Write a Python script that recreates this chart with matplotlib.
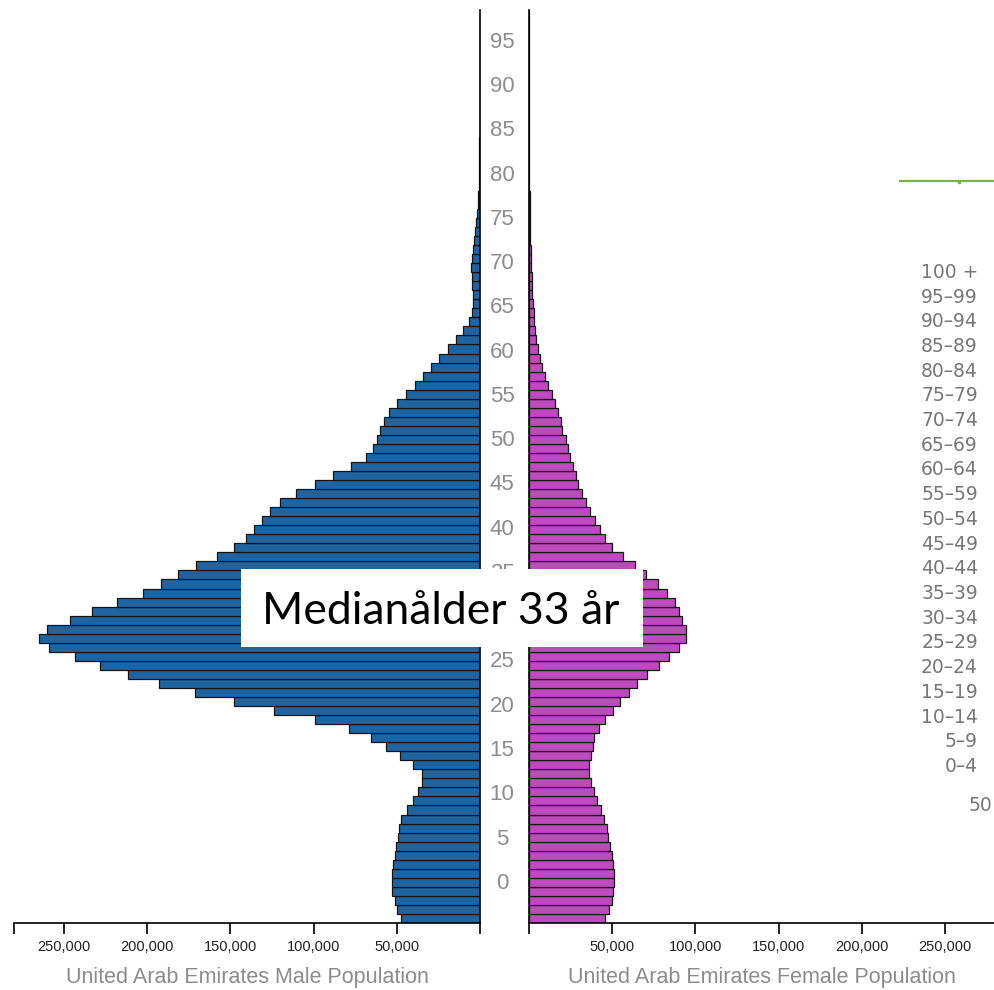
import numpy as np
import matplotlib.pyplot as plt
from matplotlib.patches import Rectangle
from matplotlib.lines import Line2D
import matplotlib.transforms as mtransforms

# single year ages 0..100
ages = np.arange(0, 101)

male = [47500, 49700, 51100, 52700, 53100, 52700, 52100, 50900, 50300, 49500,
        48900, 47500, 43900, 40100, 37100, 35000, 35000, 40100, 48100, 56700,
        65500, 78700, 99200, 123800, 147700, 171300, 192700, 211700, 228400, 243400,
        258800, 265200, 260400, 246600, 233200, 218000, 202700, 191700, 181700, 170700,
        157900, 147700, 140600, 135800, 130800, 126200, 120200, 110600, 99200, 88100,
        77500, 68700, 64500, 62100, 60100, 57700, 54700, 50100, 44500, 39100,
        34500, 29600, 24800, 19400, 14600, 10000, 6600, 4800, 4400, 4400,
        4800, 5000, 5200, 4800, 4000, 3600, 3000, 2400, 2000, 1400,
        1000, 800, 650, 550, 450, 380, 320, 260, 210, 170,
        140, 110, 90, 70, 55, 45, 35, 25, 20, 15, 10]

female = [45600, 48200, 49600, 50600, 51000, 51000, 50600, 49600, 48600, 47600,
          46600, 45000, 43000, 41000, 39200, 37200, 36200, 36200, 37200, 38200,
          39200, 42000, 45600, 50200, 54800, 59800, 65000, 71200, 78000, 84000,
          90200, 94200, 94200, 92000, 90000, 87600, 83200, 77600, 70600, 63600,
          56200, 50000, 45600, 42600, 39800, 36600, 34200, 31600, 29600, 28000,
          26600, 24800, 23600, 22000, 20000, 19000, 17600, 15600, 13600, 11600,
          9600, 7800, 6600, 5200, 4400, 3800, 3200, 2800, 2400, 2100,
          1800, 1600, 1400, 1200, 1000, 850, 720, 600, 500, 420,
          350, 290, 240, 200, 160, 130, 100, 80, 65, 50,
          40, 30, 25, 20, 15, 10, 8, 6, 4, 3, 2]

age_labels = [str(a) for a in range(0, 100, 5)]
group_labels = ['100 +', '95–99', '90–94', '85–89', '80–84', '75–79', '70–74',
                '65–69', '60–64', '55–59', '50–54', '45–49', '40–44', '35–39',
                '30–34', '25–29', '20–24', '15–19', '10–14', '5–9', '0–4']
x_ticks = [50000, 100000, 150000, 200000, 250000]
x_ticklabels = ['50,000', '100,000', '150,000', '200,000', '250,000']
median_text = 'Medianålder 33 år'
male_title = 'United Arab Emirates Male Population'
female_title = 'United Arab Emirates Female Population'

W, H = 994, 990
fig = plt.figure(figsize=(W / 100, H / 100), dpi=100)

def px_box(x0, y0, x1, y1):
    return [x0 / W, 1 - y1 / H, (x1 - x0) / W, (y1 - y0) / H]

axL = fig.add_axes(px_box(14, 10, 480, 923))
axR = fig.add_axes(px_box(529, 10, 995, 923))

axL.barh(ages, male, height=1.0, color='#1f64a0', edgecolor='#151515', linewidth=0.9)
axR.barh(ages, female, height=1.0, color='#be4bbe', edgecolor='#151515', linewidth=0.9)

xmax = 280000
axL.set_xlim(xmax, 0)
axR.set_xlim(0, xmax)

for ax, keep in ((axL, 'right'), (axR, 'left')):
    ax.set_ylim(-0.5, 100.5)
    ax.set_yticks([])
    for s in ['top', 'left', 'right']:
        ax.spines[s].set_visible(s == keep)
    ax.spines[keep].set_linewidth(1.2)
    ax.spines['bottom'].set_linewidth(1.2)
    ax.set_xticks([0] + x_ticks + [xmax])
    ax.set_xticklabels([''] + x_ticklabels + [''])
    ax.tick_params(axis='x', length=8, width=1.2, labelsize=10.5,
                   labelcolor='#222222', pad=4)
    for lab in ax.get_xticklabels():
        lab.set_family('Liberation Sans')

fig.text(247 / W, 1 - 977 / H, male_title, ha='center', va='center',
         fontsize=15.5, color='#8c8c8c', family='Liberation Sans')
fig.text(762 / W, 1 - 977 / H, female_title, ha='center', va='center',
         fontsize=15.5, color='#8c8c8c', family='Liberation Sans')

# age labels between the two halves
trans = mtransforms.blended_transform_factory(fig.transFigure, axL.transData)
label_pos = np.linspace(3.89, 96.93, len(age_labels))
for lab, yp in zip(age_labels, label_pos):
    fig.text(502 / W, yp, lab, transform=trans, ha='center', va='center',
             fontsize=16, color='#8c8c8c', family='Liberation Sans', zorder=3)

# right-hand group list
group_y = np.linspace(272.3, 766.5, len(group_labels))
for lab, yp in zip(group_labels, group_y):
    fig.text(978 / W, 1 - yp / H, lab, ha='right', va='center',
             fontsize=13.5, color='#777777', family='DejaVu Sans')
fig.text(969 / W, 1 - 805.7 / H, '50', ha='left', va='center',
         fontsize=13.5, color='#777777', family='DejaVu Sans')

# green line top right
fig.add_artist(Line2D([900 / W, 1.0], [1 - 180.7 / H] * 2, color='#78b244', lw=1.6))
fig.add_artist(Line2D([959 / W], [1 - 182 / H], marker='s', ms=2, color='#78b244'))

# median box
fig.add_artist(Rectangle((241 / W, 1 - 647 / H), (643 - 241) / W, (647 - 569) / H,
                         transform=fig.transFigure, facecolor='white',
                         edgecolor='none', zorder=10))
fig.text(441 / W, 1 - 623.5 / H, median_text, ha='center', va='baseline',
         fontsize=32, color='black', family='Lato', zorder=11)

fig.savefig('out.png', dpi=100)
